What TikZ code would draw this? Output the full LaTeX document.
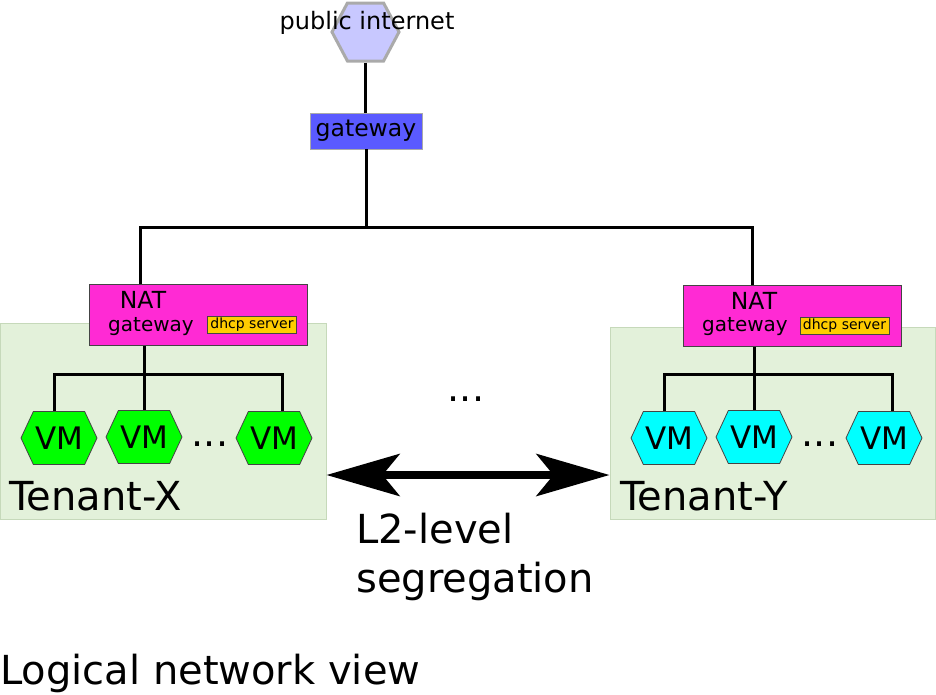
\documentclass[tikz,border=0pt]{standalone}
\usepackage{fontspec}
\setmainfont{DejaVu Sans}
\usepackage{tikz}
\usetikzlibrary{shapes.symbols, arrows.meta, positioning}
\definecolor{InetFill}{HTML}{C8C8FF}
\definecolor{InetBorder}{HTML}{AAAAAA}
\definecolor{GwBlue}{HTML}{5A5AFF}
\definecolor{NatPink}{HTML}{FF2AD4}
\definecolor{DhcpYellow}{HTML}{FFCC00}
\definecolor{VmGreen}{HTML}{00FF00}
\definecolor{VmCyan}{HTML}{00FFFF}
\definecolor{TenantBg}{HTML}{E3F1DA}
\definecolor{TenantBorder}{HTML}{C6D9BA}
\definecolor{DarkBorder}{HTML}{444444}

\begin{document}
\begin{tikzpicture}[x=1pt, y=-1pt,
  wire/.style={line width=3pt, black},
  tenant/.style={rectangle, fill=TenantBg, draw=TenantBorder, line width=1pt,
                 inner sep=0pt},
  natbox/.style={rectangle, fill=NatPink, draw=DarkBorder, line width=0.8pt,
                 minimum width=218pt, minimum height=61pt, inner sep=0pt},
  dhcpbox/.style={rectangle, fill=DhcpYellow, draw=DarkBorder, line width=0.8pt,
                  minimum width=89pt, minimum height=17pt, inner sep=0pt,
                  font=\fontsize{14}{14}\selectfont},
  vmhex/.style={signal, signal to=west and east, signal pointer angle=130,
                draw=DarkBorder, line width=0.8pt, inner sep=0pt,
                minimum width=76pt, minimum height=53pt,
                font=\fontsize{31}{31}\selectfont},
  txt/.style={inner sep=0pt, font=\fontsize{#1}{#1}\selectfont},
  bigarrow/.style={line width=8pt, {Stealth[length=73pt, width=42pt, inset=17pt]}-{Stealth[length=73pt, width=42pt, inset=17pt]}},
]
\useasboundingbox (0,0) rectangle (936,694);

% internet and gateway
\node[signal, signal to=west and east, signal pointer angle=124,
      fill=InetFill, draw=InetBorder, line width=3pt, inner sep=0pt,
      minimum width=67pt, minimum height=58pt] (inet) at (365.5,32) {};
\node[txt=24, anchor=base] (inetlbl) at (367,29) {public internet};
\node[rectangle, fill=GwBlue, draw=InetBorder, line width=0.8pt, inner sep=0pt,
      minimum width=112pt, minimum height=36pt, font=\fontsize{23.5}{23.5}\selectfont]
  (gw) at (366,131) {gateway};
\draw[wire] (inet.south) -- (inet.south |- gw.north);

% tenant areas
\node[tenant, minimum width=326pt, minimum height=196pt] (tenx) at (163,421) {};
\node[tenant, minimum width=325pt, minimum height=192pt] (teny) at (772.5,423) {};

% NAT gateways
\node[natbox] (natx) at (198,315) {};
\node[txt=23.5, anchor=base] (natxa) at (143,308) {NAT};
\node[txt=20, anchor=base] (natxb) at (151,331) {gateway};
\node[dhcpbox] (dhcpx) at (252,324.5) {dhcp server};

\node[natbox] (naty) at (792.5,316) {};
\node[txt=23.5, anchor=base] (natya) at (754,309) {NAT};
\node[txt=20, anchor=base] (natyb) at (745,331) {gateway};
\node[dhcpbox] (dhcpy) at (844.5,325.5) {dhcp server};

% top bus
\coordinate (topbus) at (366,227);
\draw[wire] (gw.south) -- (topbus);
\draw[wire] ([xshift=-58pt]natx.north) |- (topbus) -| ([xshift=-40.5pt]naty.north);

% VMs of tenant X
\node[vmhex, fill=VmGreen] (vmx1) at (59,438) {VM};
\node[vmhex, fill=VmGreen] (vmx2) at (144,437) {VM};
\node[vmhex, fill=VmGreen] (vmx3) at (274,438) {VM};
\node[txt=38, anchor=base] (dotsx) at (210,446) {...};
\coordinate (xbus) at (144,374);
\draw[wire] (xbus |- natx.south) -- (vmx2.north);
\draw[wire] ([xshift=-5pt]vmx1.north) |- (xbus) -| ([xshift=8pt]vmx3.north);

% VMs of tenant Y
\node[vmhex, fill=VmCyan] (vmy1) at (669,438) {VM};
\node[vmhex, fill=VmCyan] (vmy2) at (754,437) {VM};
\node[vmhex, fill=VmCyan] (vmy3) at (884,438) {VM};
\node[txt=38, anchor=base] (dotsy) at (820,446) {...};
\coordinate (ybus) at (754,374);
\draw[wire] (ybus |- naty.south) -- (vmy2.north);
\draw[wire] ([xshift=-5pt]vmy1.north) |- (ybus) -| ([xshift=8pt]vmy3.north);

% labels
\node[txt=40, anchor=base west] (tenxlbl) at (9,510) {Tenant-X};
\node[txt=40, anchor=base west] (tenylbl) at (620,510) {Tenant-Y};
\node[txt=38, anchor=base] (dotsmid) at (466,401) {...};

% segregation
\coordinate (arr) at (466,475);
\draw[bigarrow] (tenx.east |- arr) -- (teny.west |- arr);
\node[txt=40, anchor=base west] (segl1) at (356,543) {L2-level};
\node[txt=40, anchor=base west] (segl2) at (356,592) {segregation};

\node[txt=40, anchor=base west] (title) at (0,684) {Logical network view};
\end{tikzpicture}
\end{document}
